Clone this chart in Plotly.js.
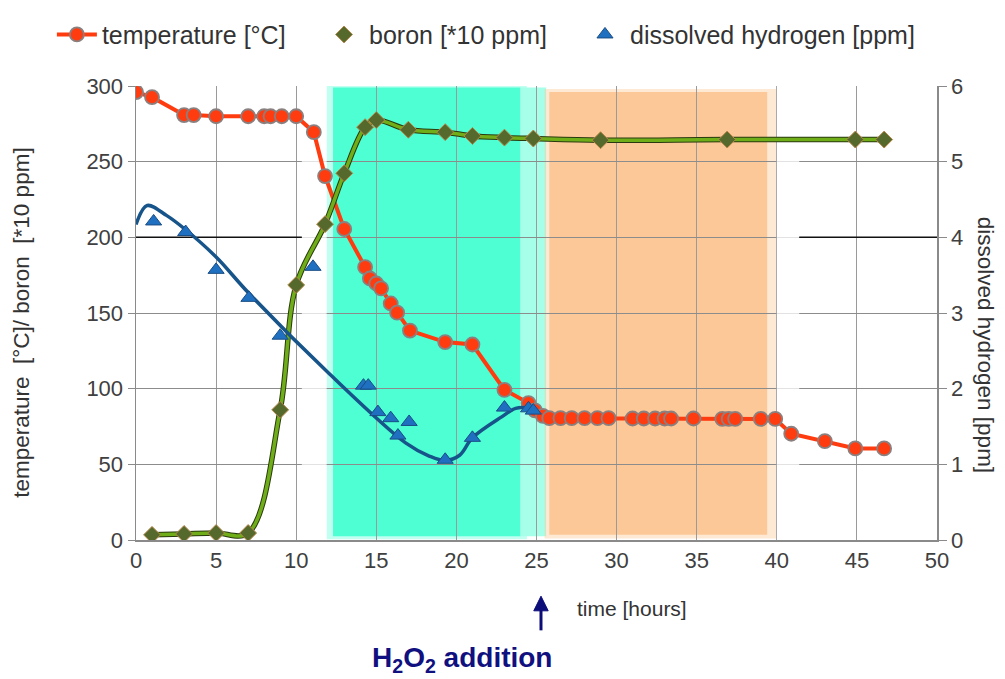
<!DOCTYPE html>
<html>
<head>
<meta charset="utf-8">
<script src="https://cdn.plot.ly/plotly-3.0.1.min.js"></script>
<style>html,body{margin:0;padding:0;background:#fff;}#chart{width:1005px;height:679px;}</style>
</head>
<body>
<div id="chart"></div>
<script>
// ---- data ----
const tempTime = [0, 1, 3, 3.6, 5, 7, 8, 8.4, 9.1, 10, 11.1, 11.8, 13, 14.3, 14.6, 15, 15.3, 15.9, 16.3, 17.1, 19.3, 21, 23, 24.5, 24.9, 25.4, 25.8, 26.5, 27.2, 28, 28.8, 29.5, 31, 31.7, 32.4, 33, 33.4, 34.8, 36.6, 37, 37.4, 39, 39.9, 40.9, 43, 44.9, 46.7];
const tempValue = [296, 292.6, 280.8, 280.8, 280, 280, 280, 280, 280, 280, 269.5, 240.5, 205.5, 180.3, 172.8, 169.5, 166.3, 156.3, 150.2, 138.4, 130.8, 129.2, 99.2, 90.5, 85.7, 82, 80.5, 80.5, 80.5, 80.5, 80.5, 80.5, 80.3, 80.3, 80.3, 80.3, 80.3, 80.3, 80, 80, 80, 80, 80, 70.2, 65.3, 60.5, 60.5];

const boronTime = [1, 3, 5, 7, 9, 10, 11.8, 13, 14.3, 15, 17, 19.3, 21, 23, 24.8, 29, 36.9, 44.9, 46.7];
const boronValue = [3.4, 4, 4.6, 4.6, 86, 168.5, 208.7, 242.3, 272.8, 277.5, 271.1, 269.5, 267, 265.9, 265.3, 264.2, 264.6, 264.6, 264.6];

const h2Time = [1.1, 3.1, 5.0, 7.05, 9.0, 11.05, 14.2, 14.5, 15.1, 15.9, 16.35, 17.05, 19.3, 21.0, 23.0, 24.5, 24.8];
const h2Value = [4.21, 4.07, 3.57, 3.2, 2.7, 3.61, 2.04, 2.04, 1.69, 1.61, 1.38, 1.56, 1.06, 1.35, 1.75, 1.74, 1.71];

// smoothed hydrogen curve as drawn in the reference
const h2FitTime = [0, 0.7, 1.9, 3.1, 5, 7.05, 12.1, 16.85, 18.3, 19.3, 20.2, 21, 22.85, 23.7, 24.5, 24.95];
const h2FitValue = [4.17, 4.42, 4.29, 4.1, 3.74, 3.26, 2.19, 1.28, 1.11, 1.05, 1.12, 1.35, 1.63, 1.74, 1.74, 1.69];

const xTicks = [0, 5, 10, 15, 20, 25, 30, 35, 40, 45, 50];
const yTicks = [0, 50, 100, 150, 200, 250, 300];
const y2Ticks = [0, 1, 2, 3, 4, 5, 6];

const seriesNames = ['temperature [°C]', 'boron [*10 ppm]', 'dissolved hydrogen [ppm]'];

// ---- traces ----
const traces = [
  {
    x: tempTime, y: tempValue, name: seriesNames[0], type: 'scatter', mode: 'lines+markers',
    line: {color: '#ff3c10', width: 4},
    marker: {symbol: 'circle', size: 14, color: '#ff3c10', line: {color: '#8a8080', width: 1.8}},
    yaxis: 'y', legend: 'legend'
  },
  {
    x: boronTime, y: boronValue, type: 'scatter', mode: 'lines', showlegend: false, hoverinfo: 'skip',
    line: {color: '#2a3a10', width: 5.5, shape: 'spline', smoothing: 1}, yaxis: 'y'
  },
  {
    x: boronTime, y: boronValue, type: 'scatter', mode: 'lines', showlegend: false, hoverinfo: 'skip',
    line: {color: '#6fae18', width: 3.5, shape: 'spline', smoothing: 1}, yaxis: 'y'
  },
  {
    x: boronTime, y: boronValue, name: seriesNames[1], type: 'scatter', mode: 'markers',
    marker: {symbol: 'diamond', size: 13, color: '#55692c', line: {color: '#b8874a', width: 1}},
    yaxis: 'y', legend: 'legend2'
  },
  {
    x: h2FitTime, y: h2FitValue, type: 'scatter', mode: 'lines', showlegend: false, hoverinfo: 'skip',
    line: {color: '#17548a', width: 3.5, shape: 'spline', smoothing: 1}, yaxis: 'y2'
  },
  {
    x: h2Time, y: h2Value, name: seriesNames[2], type: 'scatter', mode: 'markers',
    marker: {symbol: 'triangle-up', size: 14, color: '#1f70c0', line: {color: '#1a4d85', width: 1}},
    yaxis: 'y2', legend: 'legend3'
  }
];

const tickFont = {family: 'Liberation Sans, Arial, sans-serif', size: 22, color: '#404040'};
const legendFont = {family: 'Liberation Sans, Arial, sans-serif', size: 25, color: '#333333'};
function legendAt(px) {
  return {orientation: 'h', x: px, xanchor: 'left', y: 1.113, yanchor: 'middle',
          font: legendFont, itemwidth: 40, bgcolor: 'rgba(0,0,0,0)'};
}

const shapes = [
  // soft edges of the shaded periods
  {type: 'rect', xref: 'x', yref: 'y', x0: 11.9, x1: 24.4, y0: 0.5, y1: 301, fillcolor: '#4dffd3', opacity: 0.35, line: {width: 0}, layer: 'below'},
  {type: 'rect', xref: 'x', yref: 'y', x0: 12.3, x1: 24.0, y0: 2.5, y1: 299, fillcolor: '#4dffd3', line: {width: 0}, layer: 'below'},
  {type: 'rect', xref: 'x', yref: 'y', x0: 24.0, x1: 25.6, y0: 2.5, y1: 299, fillcolor: '#a6ffe9', line: {width: 0}, layer: 'below'},
  {type: 'rect', xref: 'x', yref: 'y', x0: 25.5, x1: 40.0, y0: 1, y1: 298, fillcolor: '#fdc897', opacity: 0.4, line: {width: 0}, layer: 'below'},
  {type: 'rect', xref: 'x', yref: 'y', x0: 25.8, x1: 39.4, y0: 3.5, y1: 296, fillcolor: '#fdc897', line: {width: 0}, layer: 'below'},
  // white veil around the shaded block
  {type: 'rect', xref: 'x', yref: 'y', x0: 10.35, x1: 11.9, y0: -4, y1: 304, fillcolor: '#ffffff', opacity: 0.75, line: {width: 0}, layer: 'between'},
  {type: 'rect', xref: 'x', yref: 'y', x0: 40.0, x1: 41.4, y0: -4, y1: 304, fillcolor: '#ffffff', opacity: 0.75, line: {width: 0}, layer: 'between'},
  {type: 'rect', xref: 'x', yref: 'y', x0: 11.9, x1: 40.0, y0: 301, y1: 304, fillcolor: '#ffffff', opacity: 0.7, line: {width: 0}, layer: 'between'},
  // darker 200-line in the white areas
  {type: 'line', xref: 'x', yref: 'y', x0: 0, x1: 10.35, y0: 200, y1: 200, line: {color: '#111111', width: 1.5}, layer: 'between'},
  {type: 'line', xref: 'x', yref: 'y', x0: 41.4, x1: 50, y0: 200, y1: 200, line: {color: '#111111', width: 1.5}, layer: 'between'},
  // H2O2 addition arrow
  {type: 'line', xref: 'x', yref: 'paper', x0: 25.28, x1: 25.28, y0: -0.199, y1: -0.15, line: {color: '#0d0d7a', width: 3}},
  {type: 'path', xref: 'x', yref: 'paper', path: 'M 25.28,-0.1237 L 24.83,-0.1560 L 25.73,-0.1560 Z', fillcolor: '#0d0d7a', line: {color: '#0d0d7a', width: 1}}
];

const layout = {
  width: 1005, height: 679,
  margin: {l: 136, r: 68, t: 74, b: 139},
  paper_bgcolor: '#ffffff', plot_bgcolor: '#ffffff',
  font: {family: 'Liberation Sans, Arial, sans-serif', color: '#333333'},
  xaxis: {
    range: [0, 50], tickvals: xTicks, ticktext: xTicks.map(String),
    showgrid: true, gridcolor: '#9a9a9a', gridwidth: 1,
    showline: true, linecolor: '#8a8a8a', linewidth: 1.5,
    ticks: '', zeroline: false, tickfont: tickFont, fixedrange: true
  },
  yaxis: {
    range: [0, 300], tickvals: yTicks, ticktext: yTicks.map(String),
    showgrid: true, gridcolor: '#8c8c8c', gridwidth: 1,
    showline: true, linecolor: '#8a8a8a', linewidth: 1.5,
    ticks: 'outside', ticklen: 7, tickcolor: '#8a8a8a', zeroline: false, tickfont: tickFont
  },
  yaxis2: {
    range: [0, 6], tickvals: y2Ticks, ticktext: y2Ticks.map(String),
    overlaying: 'y', side: 'right', showgrid: false,
    showline: true, linecolor: '#8a8a8a', linewidth: 1.5,
    ticks: 'outside', ticklen: 8, tickcolor: '#8a8a8a', zeroline: false, tickfont: tickFont
  },
  showlegend: true,
  legend: legendAt(-0.105),
  legend2: legendAt(0.2285),
  legend3: legendAt(0.5543),
  shapes: shapes,
  annotations: [
    {xref: 'paper', yref: 'paper', x: -0.1423, y: 0.4785, text: 'temperature  [°C]/ boron  [*10 ppm]', textangle: -90,
     showarrow: false, font: {size: 22.5, color: '#333333'}, xanchor: 'center', yanchor: 'middle'},
    {xref: 'paper', yref: 'paper', x: 1.06, y: 0.43, text: 'dissolved hydrogen [ppm]', textangle: 90,
     showarrow: false, font: {size: 22.5, color: '#333333'}, xanchor: 'center', yanchor: 'middle'},
    {xref: 'paper', yref: 'paper', x: 0.548, y: -0.1516, text: 'time [hours]', showarrow: false,
     font: {size: 21, color: '#333333'}, xanchor: 'left', yanchor: 'middle'},
    {xref: 'paper', yref: 'paper', x: 0.407, y: -0.263, text: '<b>H<sub>2</sub>O<sub>2</sub> addition</b>', showarrow: false,
     font: {size: 28, color: '#101080'}, xanchor: 'center', yanchor: 'middle'}
  ]
};

Plotly.newPlot('chart', traces, layout, {displayModeBar: false, staticPlot: true});
</script>
</body>
</html>
